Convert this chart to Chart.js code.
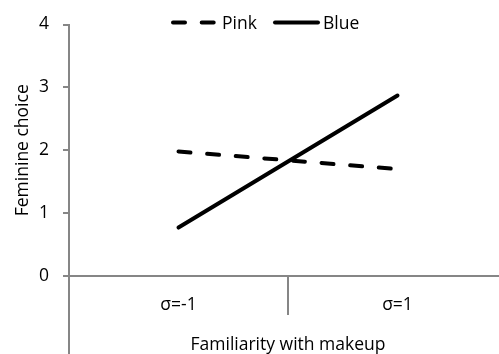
<!DOCTYPE html>
<html>
<head>
<meta charset="utf-8">
<script src="https://cdn.jsdelivr.net/npm/chart.js@4.4.0/dist/chart.umd.min.js"></script>
<style>
  html, body { margin: 0; padding: 0; background: #ffffff; overflow: hidden; }
  #wrap { width: 510px; height: 354px; }
</style>
</head>
<body>
<div id="wrap"><canvas id="c" width="510" height="354"></canvas></div>
<script>
const categories = ['σ=-1', 'σ=1'];
const pinkValues = [1.98, 1.70];
const blueValues = [0.77, 2.87];
const yTicks = [0, 1, 2, 3, 4];
const seriesNames = ['Pink', 'Blue'];
const xTitle = 'Familiarity with makeup';
const yTitle = 'Feminine choice';

const FONT = '"Open Sans", sans-serif';
const FS = 17.5;
const AXIS = '#868686';

const legendPlugin = {
  id: 'customLegend',
  afterDraw(chart) {
    const ctx = chart.ctx;
    const items = [
      { ds: chart.data.datasets[0], x0: 173, x1: 214, tx: 222 },
      { ds: chart.data.datasets[1], x0: 275, x1: 318, tx: 323 }
    ];
    ctx.save();
    items.forEach(it => {
      ctx.beginPath();
      ctx.setLineDash(it.ds.borderDash || []);
      ctx.lineCap = it.ds.borderCapStyle || 'round';
      ctx.lineWidth = it.ds.borderWidth;
      ctx.strokeStyle = it.ds.borderColor;
      ctx.moveTo(it.x0, 22.5);
      ctx.lineTo(it.x1, 22.5);
      ctx.stroke();
      ctx.setLineDash([]);
      ctx.fillStyle = '#000000';
      ctx.font = FS + 'px ' + FONT;
      ctx.textAlign = 'left';
      ctx.textBaseline = 'alphabetic';
      ctx.fillText(it.ds.label, it.tx, 28.7);
    });
    ctx.restore();
  }
};

const axisExtend = {
  id: 'axisExtend',
  afterDraw(chart) {
    const ctx = chart.ctx;
    const ys = chart.scales.y;
    ctx.save();
    ctx.strokeStyle = AXIS;
    ctx.lineWidth = 2;
    ctx.beginPath();
    ctx.moveTo(Math.round(ys.right - 1) + 1, chart.chartArea.bottom);
    ctx.lineTo(Math.round(ys.right - 1) + 1, chart.height);
    ctx.stroke();
    ctx.restore();
  }
};

new Chart(document.getElementById('c'), {
  type: 'line',
  data: {
    labels: categories,
    datasets: [
      {
        label: seriesNames[0],
        data: pinkValues,
        borderColor: '#000000',
        backgroundColor: '#000000',
        borderWidth: 4,
        borderDash: [12, 16.7],
        borderCapStyle: 'round',
        pointRadius: 0,
        tension: 0,
        fill: false
      },
      {
        label: seriesNames[1],
        data: blueValues,
        borderColor: '#000000',
        backgroundColor: '#000000',
        borderWidth: 4,
        borderCapStyle: 'round',
        pointRadius: 0,
        tension: 0,
        fill: false
      }
    ]
  },
  options: {
    responsive: false,
    animation: false,
    layout: { padding: { top: 23, right: 3, bottom: 0, left: 0 } },
    plugins: {
      legend: { display: false },
      tooltip: { enabled: false }
    },
    scales: {
      x: {
        type: 'category',
        offset: true,
        grid: {
          offset: true,
          drawOnChartArea: false,
          drawTicks: true,
          tickLength: 39,
          color: AXIS,
          lineWidth: 2
        },
        border: { display: true, color: AXIS, width: 2 },
        ticks: {
          color: '#000000',
          font: { family: FONT, size: FS },
          padding: -20.5,
          maxRotation: 0
        },
        title: {
          display: true,
          text: xTitle,
          color: '#000000',
          font: { family: FONT, size: FS, lineHeight: 1 },
          padding: { top: 0, bottom: 0 }
        },
        afterFit(scale) { scale.height = 78; }
      },
      y: {
        min: 0,
        max: 4,
        afterBuildTicks(scale) { scale.ticks = yTicks.map(v => ({ value: v })); },
        grid: {
          drawOnChartArea: false,
          drawTicks: true,
          tickLength: 6,
          color: AXIS,
          lineWidth: 2
        },
        border: { display: true, color: AXIS, width: 2 },
        ticks: {
          color: '#000000',
          font: { family: FONT, size: FS },
          padding: 14
        },
        title: {
          display: true,
          text: yTitle,
          color: '#000000',
          font: { family: FONT, size: FS },
          padding: { top: 13, bottom: 0 }
        },
        afterFit(scale) { scale.width = 69; }
      }
    }
  },
  plugins: [legendPlugin, axisExtend]
});
</script>
</body>
</html>
